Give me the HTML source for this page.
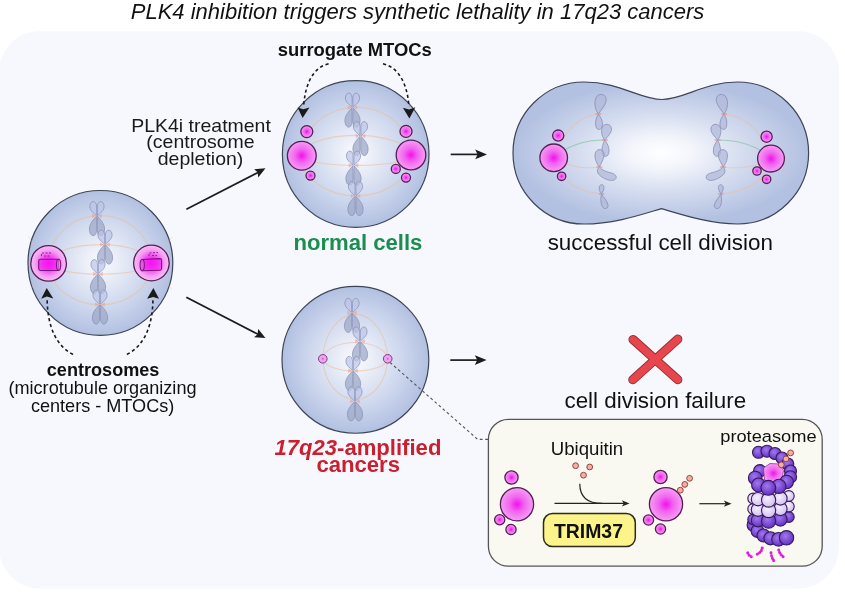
<!DOCTYPE html>
<html><head><meta charset="utf-8">
<style>
html,body{margin:0;padding:0;background:#fff;}
body{width:845px;height:604px;overflow:hidden;position:relative;}
svg{position:absolute;left:0;top:0;will-change:transform;}
text{font-family:"Liberation Sans",sans-serif;}
</style></head>
<body>
<svg width="845" height="604" viewBox="0 0 845 604">
<defs>
  <radialGradient id="cellg" cx="0.5" cy="0.5" r="0.5">
    <stop offset="0" stop-color="#fcfcff"/>
    <stop offset="0.25" stop-color="#e9edf7"/>
    <stop offset="0.65" stop-color="#ccd6ed"/>
    <stop offset="1" stop-color="#b2c0e1"/>
  </radialGradient>
  <radialGradient id="divg" cx="0.5" cy="0.5" r="0.5">
    <stop offset="0" stop-color="#ffffff"/>
    <stop offset="0.22" stop-color="#f3f5fb"/>
    <stop offset="0.55" stop-color="#d5ddef"/>
    <stop offset="1" stop-color="#b2c0e1"/>
  </radialGradient>
  <radialGradient id="mag" cx="0.5" cy="0.5" r="0.5">
    <stop offset="0" stop-color="#f012ec"/>
    <stop offset="0.45" stop-color="#f264ef"/>
    <stop offset="1" stop-color="#f59ef3"/>
  </radialGradient>
  <radialGradient id="magp" cx="0.5" cy="0.5" r="0.5">
    <stop offset="0" stop-color="#e070e0"/>
    <stop offset="1" stop-color="#f2b6ee"/>
  </radialGradient>

  <g id="chr">
    <g stroke="#7f88ae" stroke-opacity="0.85" stroke-width="0.75">
      <g fill="#9da7c8" fill-opacity="0.72">
      <path d="M-0.6,0.4 C-3,3 -7.6,7.5 -7.6,13 C-7.6,17.2 -5.6,19.6 -3.9,19.6 C-1.7,19.6 -0.4,17.4 -0.4,13.5 C-0.4,8 -0.4,3.2 -0.6,0.4 Z"/>
      <path d="M0.6,0.4 C3,3 7.6,7.5 7.6,13 C7.6,17.2 5.6,19.6 3.9,19.6 C1.7,19.6 0.4,17.4 0.4,13.5 C0.4,8 0.4,3.2 0.6,0.4 Z"/>
      </g>
      <g fill="#bcc4e8" fill-opacity="0.7">
      <path d="M-0.6,-0.4 C-2.8,-2.6 -7.1,-5.4 -7.1,-9.4 C-7.1,-12.7 -5.4,-14.4 -3.7,-14.4 C-1.9,-14.4 -0.4,-12.7 -0.4,-9.4 C-0.4,-5.5 -0.4,-2.6 -0.6,-0.4 Z"/>
      <path d="M0.6,-0.4 C2.8,-2.6 7.1,-5.4 7.1,-9.4 C7.1,-12.7 5.4,-14.4 3.7,-14.4 C1.9,-14.4 0.4,-12.7 0.4,-9.4 C0.4,-5.5 0.4,-2.6 0.6,-0.4 Z"/>
      </g>
    </g>
    <g fill="#ee9a90" fill-opacity="0.6">
      <path d="M-4.8,-2.2 L-1.2,0 L-4.8,2.2 Z"/>
      <path d="M4.8,-2.2 L1.2,0 L4.8,2.2 Z"/>
    </g>
  </g>
  <g id="chrset">
    <use href="#chr" x="-3.5" y="-46.5"/>
    <use href="#chr" x="4.5" y="-18"/>
    <use href="#chr" x="-2.5" y="11.5"/>
    <use href="#chr" x="-0.5" y="42"/>
  </g>

  <radialGradient id="pd" cx="0.42" cy="0.38" r="0.6">
    <stop offset="0" stop-color="#a178ef"/>
    <stop offset="1" stop-color="#6433c2"/>
  </radialGradient>
  <radialGradient id="pl" cx="0.42" cy="0.38" r="0.6">
    <stop offset="0" stop-color="#f6f0fd"/>
    <stop offset="1" stop-color="#d2c2f0"/>
  </radialGradient>

  <radialGradient id="mag2" cx="0.5" cy="0.5" r="0.5">
    <stop offset="0" stop-color="#ff00f8"/>
    <stop offset="0.35" stop-color="#f43cf0"/>
    <stop offset="0.75" stop-color="#f4a0f2"/>
    <stop offset="1" stop-color="#f7bcf5"/>
  </radialGradient>
</defs>

<!-- background panel -->
<rect x="-1" y="31" width="840" height="557.5" rx="41" ry="41" fill="#f7f8fe"/>

<!-- title -->
<text x="417.5" y="19" font-size="22" font-style="italic" text-anchor="middle" fill="#111">PLK4 inhibition triggers synthetic lethality in 17q23 cancers</text>

<!-- cells -->
<circle cx="100.4" cy="262.9" r="72.4" fill="url(#cellg)" stroke="#3d4556" stroke-width="1.2"/>
<circle cx="355.7" cy="154" r="73.3" fill="url(#cellg)" stroke="#3d4556" stroke-width="1.2"/>
<circle cx="355.4" cy="359.85" r="73.4" fill="url(#cellg)" stroke="#3d4556" stroke-width="1.2"/>
<path d="M584,82 C620,82 640,99.5 662,99.5 C684,99.5 704,82 737.6,82 A71,71 0 0 1 737.6,224 C710,224 680,214 661.5,208.6 C643,214 615,224 584,224 A71,71 0 0 1 584,82 Z" fill="url(#divg)" stroke="#3d4556" stroke-width="1.2"/>


<!-- ===== left parent cell details ===== -->
<g fill="none" stroke="#e8bf9f" stroke-width="1.1" stroke-opacity="0.6">
  <path d="M49,263.4 A51.3,47.6 0 0 1 151.6,263"/>
  <path d="M49,263.4 A51.3,18.6 0 0 1 151.6,263"/>
  <path d="M49,263.4 A51.3,11 0 0 0 151.6,263"/>
  <path d="M49,263.4 A51.3,41.6 0 0 0 151.6,263"/>
  <path d="M34,245 L28,236 M36,282 L30,290 M166,245 L172,237 M166,282 L172,290" stroke-opacity="0.3"/>
</g>
<use href="#chrset" x="100.5" y="262.5"/>
<g>
  <circle cx="48.6" cy="263.4" r="17.8" fill="url(#mag2)" stroke="#561d58" stroke-width="1.3"/>
  <circle cx="151.4" cy="263" r="17.8" fill="url(#mag2)" stroke="#561d58" stroke-width="1.3"/>
  <path d="M40.5,259.2 L58.6,259.2 L58.6,270.5 L40.5,270.5 Q38.7,270.5 38.7,268.6 L38.7,261 Q38.7,259.2 40.5,259.2 Z" fill="#f020ee" fill-opacity="0.55" stroke="#7e1580" stroke-width="1.1"/>
  <ellipse cx="58.6" cy="264.85" rx="2.1" ry="5.65" fill="#f47ef2" fill-opacity="0.6" stroke="#7e1580" stroke-width="1.1"/>
  <path d="M41.5,256 L41.5,253 L51,253 M44,256 L50,256" fill="none" stroke="#861a86" stroke-width="0.9" stroke-dasharray="2,1.5"/>
  <path d="M142,259.5 L159.8,258.6 Q161.6,258.6 161.6,260.4 L161.6,268.4 Q161.6,270.2 159.8,270.2 L142,270.8 Z" fill="#f020ee" fill-opacity="0.55" stroke="#7e1580" stroke-width="1.1"/>
  <ellipse cx="142.2" cy="265.1" rx="2.1" ry="5.65" fill="#f47ef2" fill-opacity="0.6" stroke="#7e1580" stroke-width="1.1"/>
  <path d="M149,256 L149,253 L158,252.5 M152,255.5 L157,255.5" fill="none" stroke="#861a86" stroke-width="0.9" stroke-dasharray="2,1.5"/>
</g>

<!-- ===== top normal cell details ===== -->
<g fill="none" stroke="#e8bf9f" stroke-width="1.1" stroke-opacity="0.6">
  <path d="M301.8,155.7 A54.6,48 0 0 1 411,155"/>
  <path d="M301.8,155.7 A54.6,20 0 0 1 411,155"/>
  <path d="M301.8,155.7 A54.6,10 0 0 0 411,155"/>
  <path d="M301.8,155.7 A54.6,40.5 0 0 0 411,155"/>
</g>
<use href="#chrset" x="356" y="154"/>
<g fill="url(#mag)" stroke="#561d58" stroke-width="1.3">
  <circle cx="301.8" cy="155.7" r="14.4"/>
  <circle cx="306.8" cy="131.6" r="6"/>
  <circle cx="310.5" cy="175.6" r="4.5"/>
  <circle cx="411" cy="155" r="14.8"/>
  <circle cx="406" cy="131.4" r="6"/>
  <circle cx="395.8" cy="168.9" r="4.5"/>
  <circle cx="406" cy="177.6" r="4.5"/>
</g>

<!-- ===== bottom cancer cell details ===== -->
<g fill="none" stroke="#e8bf9f" stroke-width="1.1" stroke-opacity="0.6">
  <path d="M322.8,358.8 A32.5,47 0 0 1 387.7,358.8"/>
  <path d="M322.8,358.8 A32.5,17.2 0 0 1 387.7,358.8"/>
  <path d="M322.8,358.8 A32.5,13.1 0 0 0 387.7,358.8"/>
  <path d="M322.8,358.8 A32.5,42.9 0 0 0 387.7,358.8"/>
</g>
<use href="#chrset" x="355.5" y="359.3"/>
<g fill="#eaa6ea" stroke="#86358a" stroke-width="1">
  <circle cx="322.8" cy="358.8" r="4.3"/>
  <circle cx="387.7" cy="358.8" r="4.3"/>
</g>
<g fill="#d860d8">
  <circle cx="322.8" cy="358.8" r="1"/>
  <circle cx="387.7" cy="358.8" r="1"/>
</g>


<!-- ===== dividing cell details ===== -->
<g fill="none" stroke-width="1.1">
  <g stroke="#eebd9c" stroke-opacity="0.55">
    <path d="M553.7,157.8 C565,125 585,115 599,114"/>
    <path d="M553.7,157.8 C575,170 590,168 600,167"/>
    <path d="M553.7,157.8 C560,185 585,193 601.5,193.8"/>
    <path d="M553.7,157.8 L541,173"/>
    <path d="M771,158.6 C760,125 740,115 723,114"/>
    <path d="M771,158.6 C750,170 735,168 722,167"/>
    <path d="M771,158.6 C765,185 740,193 720.5,193.8"/>
    <path d="M771,158.6 L784,173"/>
  </g>
  <g stroke="#86c0a0" stroke-opacity="0.7">
    <path d="M553.7,157.8 C570,143 590,140 605,140"/>
    <path d="M771,158.6 C755,143 735,140 717,140"/>
  </g>
</g>
<g id="chl" fill="#b0b8da" fill-opacity="0.72" stroke="#8189b0" stroke-opacity="0.9" stroke-width="0.8">
  <path d="M598.3,114 C593.5,108 594,97 598.5,95 C603,93 607,96 606,101.5 C605,106 601,110 598.3,114 C596,118 594.5,124 596.5,128 C598.5,131 602.5,129 602.5,124 C602.5,120 600.5,117 598.3,114 Z"/>
  <path d="M604.8,140 C601,136 600.5,128 603.5,125.5 C606.5,123 611.5,124.5 611.5,129 C611.5,133.5 607,137 604.8,140 C602.5,144 601,151 602.5,154.5 C604,157.5 608.5,157 609,152 C609.5,147 607,143 604.8,140 Z"/>
  <path d="M599.4,166.9 C595,162 593.5,154 596.5,151 C599.5,148 604.5,150 604,155.5 C603.5,160 601,163 599.4,166.9 C602,170.5 607,172 611.5,173 C616,174 617.5,177.5 615,179.5 C611.5,182 603,179 598.5,174 C596.5,171.5 597.5,168.5 599.4,166.9 Z"/>
  <path d="M601.5,193.8 C599,191 598.5,187 600,185.5 C601.5,184 604,184.5 604,187.5 C604,190 602.5,192 601.5,193.8 C603,197 607.5,201 608,205 C608.5,208.5 605,209.5 603,207.5 C600.5,204.5 600.5,198 601.5,193.8 Z"/>
</g>
<use href="#chl" transform="matrix(-1,0,0,1,1322.4,0)"/>
<g stroke="#e88a88" stroke-width="1.5" stroke-opacity="0.7" fill="none">
  <path d="M595.3,114 L601.3,114 M601.8,140 L607.8,140 M596.4,167 L602.4,167 M598.8,193.8 L604.2,193.8"/>
  <path d="M721.1,114 L727.1,114 M714.6,140 L720.6,140 M720,167 L726,167 M718.2,193.8 L723.6,193.8"/>
</g>
<g fill="url(#mag)" stroke="#561d58" stroke-width="1.3">
  <circle cx="553.7" cy="157.8" r="13.8"/>
  <circle cx="558.2" cy="135.6" r="5.6"/>
  <circle cx="561.6" cy="176.3" r="4.2"/>
  <circle cx="771" cy="158.6" r="13.4"/>
  <circle cx="766.6" cy="136.7" r="5.6"/>
  <circle cx="757" cy="171" r="4.2"/>
  <circle cx="766.6" cy="179.3" r="4.2"/>
</g>

<!-- ===== arrows ===== -->
<g stroke="#1c1c1c" stroke-width="1.7" fill="none">
  <path d="M186.4,209.2 L258,172.5"/>
  <path d="M186.3,297.3 L258,334.2"/>
  <path d="M450.7,154.4 L478,154.4"/>
  <path d="M450.3,360.1 L478,360.1"/>
</g>
<g fill="#1c1c1c">
  <path d="M265.5,168.3 L254.1,169.3 L257.6,172.2 L258.2,177.4 Z"/>
  <path d="M265.5,338 L258.2,329 L257.6,334.2 L254.1,337.2 Z"/>
  <path d="M487,154.4 L475.2,149.6 L477.6,154.4 L475.2,159.2 Z"/>
  <path d="M486.6,360.1 L474.8,355.3 L477.2,360.1 L474.8,364.9 Z"/>
</g>

<!-- dashed curved arrows -->
<g stroke="#1a1a1a" stroke-width="1.6" fill="none" stroke-dasharray="3.2,2.8">
  <path d="M328.6,63.7 C313,67.5 305,84 303.6,107"/>
  <path d="M383,63.7 C399,67.5 407.4,84 409,107"/>
  <path d="M73,354.5 C55,345 47.3,325 47.1,298"/>
  <path d="M126.9,354.5 C145,345 152.8,325 153,298"/>
</g>
<g fill="#1a1a1a">
  <path d="M302.6,118 L297.6,107.4 L303.3,109.2 L309.4,107.5 Z"/>
  <path d="M409.4,118.5 L402.9,107.8 L409.2,109.4 L415.3,107.2 Z"/>
  <path d="M46.7,287.9 L41.2,298.8 L46.9,296.6 L53.3,298.5 Z"/>
  <path d="M153.4,287.9 L147.1,298.7 L153.2,297 L159,298.7 Z"/>
</g>
<path d="M390,362.4 L477.7,439.4 L488,439.4" stroke="#555" stroke-width="1.1" fill="none" stroke-dasharray="2.8,2.6"/>

<!-- red X -->
<g stroke-linecap="round" fill="none">
  <path d="M633,339.5 L677.8,379.7 M677.8,339.2 L632.8,379.7" stroke="#8a3536" stroke-width="9.2"/>
  <path d="M633,339.5 L677.8,379.7 M677.8,339.2 L632.8,379.7" stroke="#e8454c" stroke-width="7.3"/>
</g>

<!-- labels -->
<text x="354.8" y="56.3" font-size="18.4" font-weight="bold" text-anchor="middle" fill="#111">surrogate MTOCs</text>
<g font-size="18" fill="#1a1a1a" text-anchor="middle">
  <text transform="translate(201,132.4) scale(1.083,1)">PLK4i treatment</text>
  <text transform="translate(200.5,148.4) scale(1.083,1)">(centrosome</text>
  <text transform="translate(200.5,164.5) scale(1.083,1)">depletion)</text>
</g>
<text x="357.9" y="249.6" font-size="22.1" font-weight="bold" text-anchor="middle" fill="#1a8d4f">normal cells</text>
<text x="660.3" y="249.8" font-size="22.4" text-anchor="middle" fill="#111">successful cell division</text>
<text x="655.3" y="407.7" font-size="22.4" text-anchor="middle" fill="#111">cell division failure</text>
<text x="103.1" y="375.6" font-size="18.1" font-weight="bold" text-anchor="middle" fill="#111">centrosomes</text>
<g font-size="18.1" fill="#111" text-anchor="middle">
  <text x="102.5" y="394.3">(microtubule organizing</text>
  <text x="102.6" y="412.2">centers - MTOCs)</text>
</g>
<g font-size="22.1" font-weight="bold" fill="#c91f2e" text-anchor="middle">
  <text x="357.9" y="455.2"><tspan font-style="italic">17q23</tspan>-amplified</text>
  <text x="358.2" y="471.6">cancers</text>
</g>

<!-- inset box -->
<rect x="488.4" y="419.4" width="333.8" height="146.8" rx="20" ry="20" fill="#f9f9f1" stroke="#555" stroke-width="1.3"/>
<text transform="translate(587,454.5) scale(1.057,1)" font-size="17.6" text-anchor="middle" fill="#111">Ubiquitin</text>
<text transform="translate(768.4,441.6) scale(1.061,1)" font-size="17.2" text-anchor="middle" fill="#111">proteasome</text>

<!-- inset contents -->
<g fill="url(#mag)" stroke="#561d58" stroke-width="1.3">
  <circle cx="517" cy="504.3" r="16.6"/>
  <circle cx="511.5" cy="477.5" r="6.6"/>
  <circle cx="499.7" cy="519.7" r="5.1"/>
  <circle cx="511" cy="529.5" r="5.1"/>
  <circle cx="666" cy="504.3" r="16.6"/>
  <circle cx="660.5" cy="477" r="6.6"/>
  <circle cx="648.5" cy="520" r="5.1"/>
  <circle cx="660.5" cy="529" r="5.1"/>
</g>
<g fill="#f0b0a6" stroke="#9e4040" stroke-width="1">
  <circle cx="575.6" cy="465.7" r="2.9"/>
  <circle cx="589.7" cy="467" r="2.9"/>
  <circle cx="583.5" cy="475.2" r="2.9"/>
  <circle cx="680.3" cy="490.2" r="2.9"/>
  <circle cx="684.8" cy="484.4" r="2.9"/>
  <circle cx="689.6" cy="478.3" r="2.9"/>
</g>
<g stroke="#222" stroke-width="1.2" fill="none">
  <path d="M554.5,503.4 L627,503.4"/>
  <path d="M579.8,483.7 C579.8,496 586,503.4 602,503.4"/>
  <path d="M699.4,503.7 L729,503.7"/>
</g>
<g fill="#222">
  <path d="M629.5,503.4 L621.8,500.3 L623.8,503.4 L621.8,506.5 Z"/>
  <path d="M731.6,503.7 L723.8,500.6 L725.8,503.7 L723.8,506.8 Z"/>
</g>

<!-- proteasome -->
<g stroke="#38195f" stroke-width="1.1"><circle cx="753.5" cy="525.0" r="6.4" fill="url(#pd)"/><circle cx="757.5" cy="531.0" r="6.4" fill="url(#pd)"/><circle cx="763.5" cy="535.5" r="6.5" fill="url(#pd)"/><circle cx="770.5" cy="538.3" r="6.6" fill="url(#pd)"/><circle cx="778.5" cy="539.3" r="6.8" fill="url(#pd)"/><circle cx="786.5" cy="537.8" r="7.2" fill="url(#pd)"/><circle cx="753.2" cy="519.5" r="5.4" fill="url(#pd)"/><circle cx="788.8" cy="517.0" r="5.4" fill="url(#pd)"/><circle cx="758.0" cy="520.2" r="6.7" fill="url(#pd)"/><circle cx="780.4" cy="519.4" r="6.7" fill="url(#pd)"/><circle cx="768.6" cy="521.0" r="7.1" fill="url(#pd)"/><circle cx="753.2" cy="509.0" r="5.4" fill="url(#pl)"/><circle cx="788.8" cy="506.5" r="5.4" fill="url(#pl)"/><circle cx="758.0" cy="509.7" r="6.7" fill="url(#pl)"/><circle cx="780.4" cy="508.9" r="6.7" fill="url(#pl)"/><circle cx="768.6" cy="510.5" r="7.1" fill="url(#pl)"/><circle cx="753.2" cy="498.5" r="5.4" fill="url(#pl)"/><circle cx="788.8" cy="496.0" r="5.4" fill="url(#pl)"/><circle cx="758.0" cy="499.2" r="6.7" fill="url(#pl)"/><circle cx="780.4" cy="498.4" r="6.7" fill="url(#pl)"/><circle cx="768.6" cy="500.0" r="7.1" fill="url(#pl)"/><circle cx="758.5" cy="452.3" r="6" fill="url(#pd)"/><circle cx="767.0" cy="451.2" r="6" fill="url(#pd)"/><circle cx="775.0" cy="453.5" r="6" fill="url(#pd)"/><circle cx="782.0" cy="458.0" r="6" fill="url(#pd)"/><circle cx="787.8" cy="464.0" r="6" fill="url(#pd)"/><circle cx="790.5" cy="471.0" r="6" fill="url(#pd)"/><circle cx="759.8" cy="470.8" r="6.2" fill="url(#pd)"/><circle cx="790.3" cy="477.0" r="6.3" fill="url(#pd)"/><path d="M763.5,468 L770,463.5 L779,464 L783.5,470.5 L782,479 L773,483 L764.5,480 Z" fill="url(#mag)" stroke="#9a2a9a" stroke-width="0.8" stroke-linejoin="round"/><circle cx="755.2" cy="478.0" r="6.8" fill="url(#pd)"/><circle cx="786.6" cy="482.0" r="6.8" fill="url(#pd)"/><circle cx="758.6" cy="485.0" r="7" fill="url(#pd)"/><circle cx="778.9" cy="486.3" r="7.1" fill="url(#pd)"/><circle cx="768.3" cy="487.8" r="7.4" fill="url(#pd)"/></g><g fill="#f0b0a6" stroke="#9e4040" stroke-width="1">
  <circle cx="781.3" cy="464.8" r="2.9"/><circle cx="786" cy="458.9" r="2.9"/><circle cx="790.6" cy="452.9" r="2.9"/></g><g stroke="#e01ed8" stroke-width="3" stroke-linecap="round" stroke-dasharray="0.1,2.6" fill="none">
  <path d="M747.7,552.8 Q749,556.5 753.2,557.4"/>
  <path d="M757.3,554.2 Q761.5,552.5 762.3,547.3"/>
  <path d="M771,552.8 Q771.5,557.5 773.7,560.5"/>
  <path d="M778.7,550 Q780,555 784.2,557.4"/>
</g>
<rect x="543.5" y="513.5" width="91.8" height="33.1" rx="9" ry="9" fill="#fcf38a" stroke="#2b2a1e" stroke-width="1.5"/>
<text x="588.45" y="538" font-size="19.4" font-weight="bold" text-anchor="middle" fill="#111">TRIM37</text>

</svg>
</body></html>
